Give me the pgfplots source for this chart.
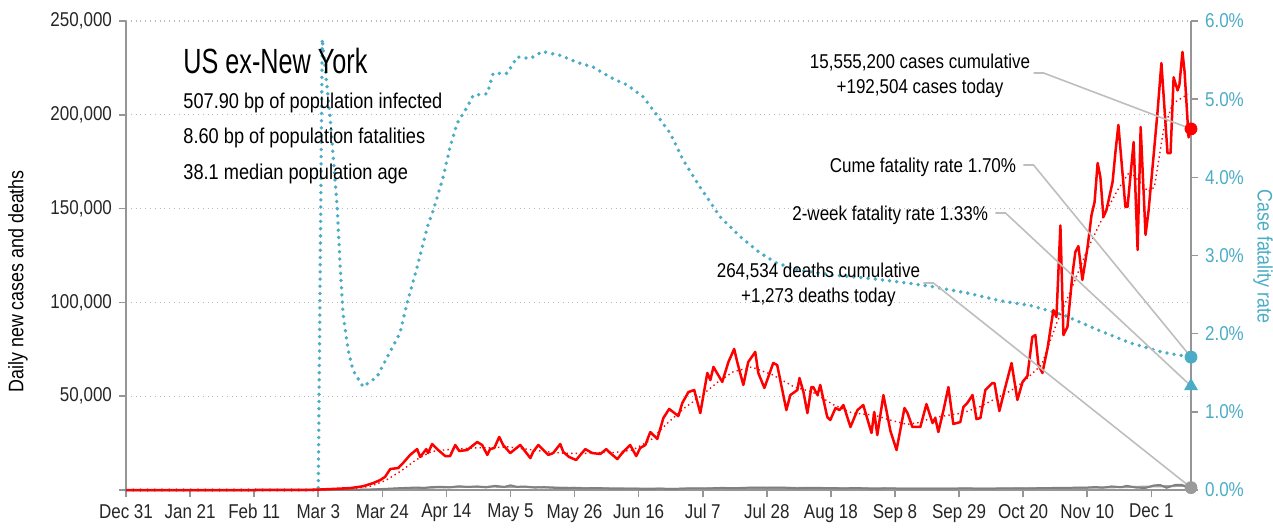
\documentclass[border=0pt]{standalone}
\usepackage{fontspec}
\setmainfont{Liberation Sans}[FakeStretch=0.85]
\newfontfamily\titlefont{Liberation Sans}[FakeStretch=0.72]
\usepackage{pgfplots}
\pgfplotsset{compat=1.18}
\definecolor{teal1}{RGB}{75,172,198}
\definecolor{axgray}{RGB}{150,150,150}
\definecolor{gridgray}{RGB}{185,185,185}
\definecolor{leadgray}{RGB}{190,190,190}
\definecolor{dgray}{RGB}{128,128,128}
\pgfplotsset{
  /pgf/number format/assume math mode=true,
  base/.style={scale only axis, width=532.5pt, height=234.5pt, xmin=0, xmax=349,
    at={(0,0)}, anchor=south west, scaled y ticks=false, scaled x ticks=false},
}
\begin{document}
\begin{tikzpicture}
\useasboundingbox (-63pt,-18.5pt) rectangle (573.5pt,245pt);
% axis 1: left axis, grid, x axis
\begin{axis}[base, ymin=0, ymax=250000,
  axis x line*=bottom, axis y line*=left,
  axis line style={axgray, line width=0.9pt, -},
  xtick={0,21,...,336},
  xticklabels={Dec 31,Jan 21,Feb 11,Mar 3,Mar 24,Apr 14,May 5,May 26,Jun 16,Jul 7,Jul 28,Aug 18,Sep 8,Sep 29,Oct 20,Nov 10,Dec 1},
  ytick={0,50000,...,250000},
  yticklabels={,{50,000},{100,000},{150,000},{200,000},{250,000}},
  tick align=outside, major tick length=3.5pt,
  tick style={axgray, line width=0.8pt},
  ymajorgrids, grid style={gridgray, dotted, line width=0.6pt},
  ticklabel style={font=\fontsize{10}{12}\selectfont, text=black!85},
  ylabel={Daily new cases and deaths},
  every axis y label/.style={at={(axis description cs:-0.1014,0.445)}, rotate=90, anchor=center, font=\fontsize{10.5}{12}\selectfont},
]
\addplot[draw=none] coordinates {(0,0)};
\end{axis}
% axis 2: case fatality rate (right)
\begin{axis}[base, ymin=0, ymax=6, hide x axis,
  axis y line*=right,
  axis line style={axgray, line width=0.9pt, -},
  ytick={0,1,...,6},
  yticklabel={\pgfmathprintnumber[fixed,fixed zerofill,precision=1]{\tick}\%},
  tick align=outside, major tick length=3.5pt,
  tick style={axgray, line width=0.8pt},
  yticklabel style={font=\fontsize{10}{12}\selectfont, text=teal1},
  ylabel={Case fatality rate},
  every axis y label/.style={at={(axis description cs:1.0676,0.498)}, rotate=-90, anchor=center, font=\fontsize{10.5}{12}\selectfont, text=teal1},
  clip=false,
]
\addplot[teal1, line width=1.9pt, line cap=round, dash pattern=on 0pt off 3.6pt] coordinates {
(0,0) (30,0) (63,0) (64.3,5.77) (66.9,4.77) (67.9,4.26) (69.2,3.62) (70.2,2.85) (71.1,2.26)
(72.8,1.79) (74.4,1.53) (77.7,1.32) (82.3,1.45) (85.6,1.70) (89.8,2.01) (92.1,2.39) (95.4,2.85)
(98.7,3.36) (100.7,3.58) (103.9,4.00) (106.2,4.39) (108.5,4.69) (111.8,4.90) (113.8,5.05)
(118.4,5.07) (120.3,5.33) (124.9,5.33) (128.2,5.54) (132.5,5.52) (136.4,5.61) (142.3,5.56)
(147.9,5.47) (153.1,5.41) (158.7,5.28) (164.3,5.18) (169.5,5.03) (174.1,4.79) (178.4,4.56)
(182.6,4.22) (188.2,3.87) (194.8,3.49) (201.3,3.24) (207.9,3.03) (213.4,2.90) (221.0,2.81)
(231.8,2.75) (243.0,2.71) (253.8,2.66) (264.6,2.60) (275.7,2.52) (286.6,2.42) (296.4,2.36)
(307.2,2.24) (318.4,2.05) (329.2,1.88) (340.0,1.76) (349,1.70)};
\end{axis}
% axis 3: cases and deaths
\begin{axis}[base, ymin=0, ymax=250000, hide axis, clip=false]
% deaths
\addplot[dgray!70, line width=1pt] coordinates {
(0,0) (60,0) (70,20) (80,200) (90,800) (100,1300) (110,1650) (120,1750) (130,1650) (140,1350)
(150,1050) (160,850) (170,700) (180,650) (190,800) (200,1000) (210,1150) (220,1100) (230,1000)
(240,850) (250,800) (260,750) (270,750) (280,750) (290,800) (300,850) (310,1050) (320,1350)
(330,1650) (340,2000) (349,2300)};
\addplot[dgray, line width=1pt] coordinates {
(0,0) (55,0) (65,10) (70,30) (75,80) (80,250) (85,600) (90,1000) (95,1300) (98,1100) (100,1500)
(103,1700) (106,1400) (109,2000) (112,1600) (115,1900) (118,1400) (121,2200) (124,1600) (126,2500)
(128,1700) (131,1800) (134,1300) (137,1500) (140,1200) (143,1000) (147,1100) (150,900) (155,1000)
(160,700) (165,800) (170,600) (175,700) (180,600) (185,900) (190,800) (195,1100) (200,1000)
(205,1300) (210,1200) (215,1300) (220,900) (225,1200) (230,1000) (235,900) (240,1000) (245,700)
(250,900) (255,700) (260,800) (265,800) (270,700) (275,900) (280,700) (285,800) (290,900)
(295,800) (300,1000) (305,1100) (310,1200) (315,1300) (318,1600) (320,1200) (323,1900)
(326,1500) (328,2200) (331,1300) (334,1100) (337,2500) (339,2600) (341,1200) (344,2800)
(346,2700) (348,1400) (349,1273)};
% cases 7-day average
\addplot[red, line width=0.7pt, dash pattern=on 0.7pt off 1.6pt] coordinates {
(0,0) (60,0) (67,300) (75,900) (80,2000) (85,5000) (90,10000) (95,16000) (100,20500) (105,21500)
(110,22000) (115,22500) (120,22500) (125,23000) (130,22000) (135,21000) (140,20000) (145,19500)
(150,19500) (155,20000) (160,20000) (166,21300) (172,26700) (177,35000) (183,43700) (188,49600)
(194,57600) (199,63000) (205,65600) (212,61300) (219,54900) (225,52200) (232,45300) (238,41000)
(245,40000) (251,37000) (256,35000) (260,36000) (264,38400) (270,40000) (274,41000) (280,44500)
(286,49600) (290,53000) (294,57600) (300,66600) (305,89000) (310,108000) (315,128000)
(320,145000) (325,160000) (329,170000) (335,159000) (337,161500) (340,192000) (343,206000)
(348,211000)};
% daily cases
\addplot[red, line width=1.25pt, line join=round] coordinates {
(0,0) (20,0) (40,0) (55,30) (62,150) (66.9,500) (73.4,1000) (77.7,2000) (81.0,3700) (83.3,5300)
(84.9,7000) (86.6,11200) (89.2,11700) (90.8,14400) (93.1,18700) (95.4,21800) (96.4,17600)
(98.4,21800) (99.0,19700) (100.3,24500) (102.3,21300) (104.6,18100) (106.2,18100) (107.9,24000)
(109.2,20800) (111.8,21300) (115.1,25600) (116.7,24000) (118.4,18700) (119.3,21800) (120.7,22400)
(122.3,28300) (123.6,24000) (125.9,19700) (129.2,24000) (132.5,17000) (133.4,20300) (135.1,24000)
(138.4,18700) (140.0,19700) (142.3,24500) (143.3,20300) (145.2,17600) (147.5,16000) (150.5,21800)
(152.8,19700) (155.4,19200) (157.4,21800) (158.7,19700) (161.0,16500) (162.6,19700) (165.2,24000)
(167.2,18100) (168.5,22400) (170.2,24000) (171.8,30900) (174.1,27200) (176.1,38400) (178.0,43200)
(181.0,39400) (182.3,46400) (184.3,52200) (186.2,53300) (188.2,41000) (190.5,62400) (191.5,58600)
(192.5,65600) (195.4,57600) (197.4,68200) (199.3,75200) (200.3,68200) (202.3,56000) (203.9,68200)
(206.2,73600) (207.2,62400) (209.2,54400) (212.1,67700) (213.4,66600) (216.4,42600) (217.7,50600)
(220.0,53300) (220.7,59700) (222.0,52200) (223.3,41000) (224.6,54900) (225.2,54900) (226.6,50600)
(227.5,56000) (229.8,38900) (230.8,37300) (232.5,43700) (233.8,42600) (235.1,45300) (237.4,33600)
(239.7,42600) (241.6,45300) (244.3,30400) (245.2,41600) (246.2,29300) (248.2,50600) (250.5,31500)
(252.5,21300) (255.1,43700) (256.1,41000) (257.7,33600) (260.3,33600) (262.3,45800) (264.3,35700)
(265.2,38400) (266.2,30900) (267.9,42600) (269.5,54900) (271.1,35200) (273.4,36200) (274.4,44200)
(275.7,46400) (277.4,50600) (278.7,37800) (280.0,38400) (281.6,53300) (283.9,57000) (284.6,57000)
(286.2,42100) (287.9,53300) (290.2,67700) (292.1,48000) (293.8,57600) (295.4,60800) (297.0,81600)
(298.0,82600) (299.0,66600) (300.3,62400) (302.0,75700) (303.9,95900) (304.9,92200) (306.2,141000)
(307.2,82600) (308.5,86900) (310.2,115700) (311.1,126900) (312.1,130000) (313.4,112000)
(315.1,129500) (316.4,146600) (317.4,153500) (318.4,174300) (319.3,166800) (320.3,145500)
(321.3,149300) (323.3,164200) (324.3,181200) (325.2,194600) (327.5,150900) (328.2,150900)
(330.2,185500) (331.5,128000) (332.5,193500) (334.1,136000) (335.1,149000) (336.7,177500)
(338.0,201000) (339.3,227600) (341.3,179600) (342.3,179600) (343.3,220000) (344.6,213000)
(345.2,216000) (346.2,233500) (346.9,222800) (348.2,188000) (349.0,192504)};
% leader lines
\draw[leadgray, line width=0.8pt] (axis cs:297.4,222280) -- (axis cs:300.7,222280) -- (axis cs:349,192504);
\draw[leadgray, line width=0.8pt] (axis cs:294.1,173240) -- (axis cs:297.4,173240) -- (axis cs:349,70833);
\draw[leadgray, line width=0.8pt] (axis cs:284.9,147660) -- (axis cs:288.2,147660) -- (axis cs:349,55417);
\draw[leadgray, line width=0.8pt] (axis cs:261.3,110340) -- (axis cs:264.6,110340) -- (axis cs:349,1273);
% end markers
\addplot[only marks, mark=*, mark size=3pt, red] coordinates {(349,192504)};
\addplot[only marks, mark=*, mark size=3pt, teal1] coordinates {(349,70833)};
\addplot[only marks, mark=triangle*, mark size=3.6pt, teal1] coordinates {(349,55417)};
\addplot[only marks, mark=*, mark size=3pt, dgray!80] coordinates {(349,1273)};
% texts
\node[anchor=base west, font=\titlefont\fontsize{17.5}{20}\selectfont, inner sep=0pt] at (axis cs:18.7,222280) {US ex-New York};
\node[anchor=base west, font=\fontsize{10.7}{12}\selectfont, inner sep=0pt] at (axis cs:18.7,203100) {507.90 bp of population infected};
\node[anchor=base west, font=\fontsize{10.7}{12}\selectfont, inner sep=0pt] at (axis cs:18.7,184440) {8.60 bp of population fatalities};
\node[anchor=base west, font=\fontsize{10.7}{12}\selectfont, inner sep=0pt] at (axis cs:18.7,165780) {38.1 median population age};
\node[anchor=base, font=\fontsize{10}{12}\selectfont, inner sep=0pt] at (axis cs:260.2,224950) {15,555,200 cases cumulative};
\node[anchor=base, font=\fontsize{10}{12}\selectfont, inner sep=0pt] at (axis cs:260.2,211620) {+192,504 cases today};
\node[anchor=base east, font=\fontsize{10}{12}\selectfont, inner sep=0pt] at (axis cs:291.8,169510) {Cume fatality rate 1.70\%};
\node[anchor=base east, font=\fontsize{10}{12}\selectfont, inner sep=0pt] at (axis cs:282.6,143920) {2-week fatality rate 1.33\%};
\node[anchor=base, font=\fontsize{10}{12}\selectfont, inner sep=0pt] at (axis cs:226.9,113540) {264,534 deaths cumulative};
\node[anchor=base, font=\fontsize{10}{12}\selectfont, inner sep=0pt] at (axis cs:226.9,100210) {+1,273 deaths today};
\end{axis}
\end{tikzpicture}
\end{document}
